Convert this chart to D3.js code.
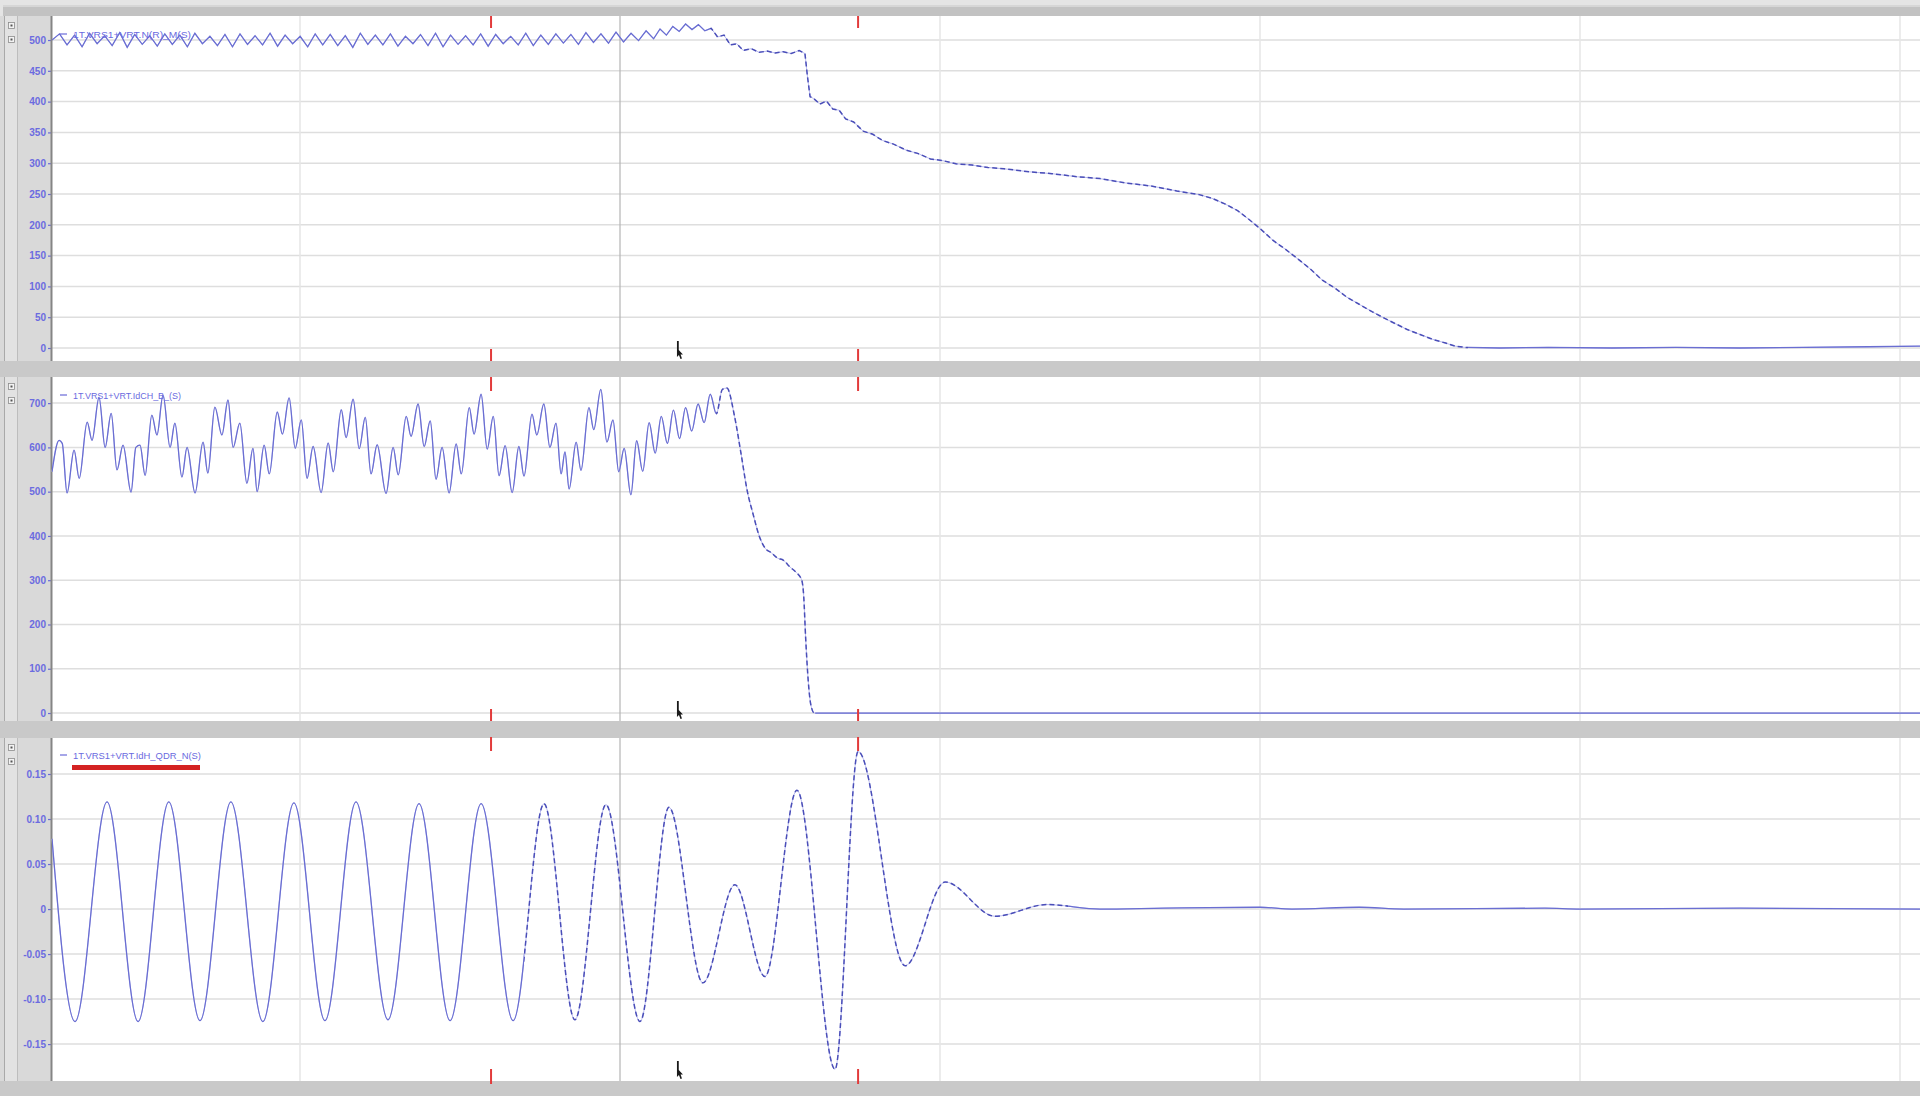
<!DOCTYPE html>
<html>
<head>
<meta charset="utf-8">
<script src="https://cdn.jsdelivr.net/npm/d3@7"></script>
<style>
  html, body { margin: 0; padding: 0; background: #ffffff; }
  svg { display: block; }
  text { font-family: "Liberation Sans", "DejaVu Sans", Arial, sans-serif; }
</style>
</head>
<body>
<svg id="chart" width="1920" height="1096"></svg>
<script>
// ---------------- recorded values ----------------
// time axis in ms
const timeDomain = [-77.5, 506.25];
const gridTimes = [0, 100, 200, 300, 400, 500];
const activeGridTime = 100;           // highlighted cursor line
const markerTimes = [59.7, 174.4];    // red event markers
const pointerTime = 117.8;            // mouse pointer position

const speedTicks = [0, 50, 100, 150, 200, 250, 300, 350, 400, 450, 500];
const powerTicks = [0, 100, 200, 300, 400, 500, 600, 700];
const currentTicks = [-0.15, -0.10, -0.05, 0, 0.05, 0.10, 0.15];
const currentTickLabels = ["-0.15", "-0.10", "-0.05", "0", "0.05", "0.10", "0.15"];

const seriesNames = [
  "1T.VRS1+VRT.N(R)_M(S)",
  "1T.VRS1+VRT.IdCH_B_(S)",
  "1T.VRS1+VRT.IdH_QDR_N(S)"
];

// channel 1: ripple before the event, one sample every 2.35 ms from -77.5 ms
const speedRippleStart = -77.5;
const speedRippleStep = 2.35;
const speedRipple = [
  500, 510, 492, 508, 489, 511, 494, 507, 491, 512, 488, 509, 493, 507, 490, 510,
  493, 508, 489, 511, 494, 506, 491, 509, 489, 510, 493, 507, 492, 511, 490, 508,
  494, 506, 489, 510, 492, 509, 491, 507, 488, 511, 493, 508, 492, 510, 490, 506,
  494, 509, 491, 511, 489, 508, 493, 507, 492, 510, 490, 509, 494, 506, 492, 511,
  491, 508, 493, 510, 495, 509, 493, 512, 496, 510, 495, 513, 497, 511, 499, 515, 502
];
// channel 1: run-down after the event [ms, value]
const speedRunDown = [
  [112.5, 518], [114.5, 508], [116.5, 522], [118.5, 514], [120.5, 526], [122.5, 517],
  [124.5, 525], [126.5, 515], [128.5, 519], [130.5, 505], [132.5, 508], [134.5, 492],
  [136.5, 494], [138.5, 483], [141, 486], [143.5, 480], [146, 482], [148.5, 479],
  [151, 481], [153.5, 478], [156, 483], [157.8, 478], [158.6, 440], [159.4, 408],
  [160.5, 405], [162.5, 396], [164.5, 401], [166.5, 388], [168.5, 386], [170.5, 372],
  [173, 367], [176, 352], [179, 347], [182, 337], [185.5, 331], [189.5, 321],
  [193, 316], [197, 307], [201, 304], [205, 299], [210, 297], [215, 293], [220, 291],
  [228, 286], [235, 283], [243, 278], [250, 275], [258, 268], [266, 263], [274, 255],
  [281, 249], [285, 243], [289, 234], [293, 223], [296.5, 209], [300, 194], [304, 175],
  [308, 160], [312, 144], [316, 127], [319.5, 110], [323.5, 97], [327, 83], [331, 71],
  [335, 59], [339, 48], [342.5, 39], [346, 30], [350, 22], [354, 14], [358, 8],
  [361, 3], [364, 1], [375, 0], [390, 1], [410, 0], [430, 1], [450, 0], [470, 1],
  [490, 2], [506.25, 3]
];

// channel 2 [ms, value]
const powerSeries = [
  [-77.5, 545], [-75.3, 616], [-74.3, 609], [-72.8, 497],
  [-70.6, 594], [-69.0, 530], [-66.5, 657], [-65.0, 616], [-62.8, 713], [-60.9, 600], [-59.0, 677], [-57.2, 549], [-55.3, 605], [-52.8, 499],
  [-51.3, 600], [-50.0, 605], [-48.4, 537], [-46.3, 673], [-44.7, 628], [-42.8, 718], [-40.6, 600], [-39.1, 655], [-36.9, 533], [-35.3, 600], [-32.8, 497],
  [-30.3, 612], [-28.8, 542], [-26.6, 691], [-24.4, 628], [-22.5, 707], [-20.9, 600], [-18.8, 655], [-16.6, 519], [-14.7, 598], [-13.4, 500],
  [-11.2, 605], [-9.6, 540], [-7.1, 680], [-5.5, 630], [-3.4, 712], [-1.5, 598], [0.4, 662], [2.2, 530], [4.1, 602], [6.6, 498],
  [8.8, 610], [10.4, 545], [12.9, 685], [14.4, 622], [16.6, 709], [18.5, 597], [20.4, 668], [22.2, 540], [24.1, 606], [26.9, 496],
  [29.1, 600], [30.7, 538], [33.2, 670], [34.7, 625], [36.9, 698], [38.8, 602], [40.7, 660], [42.5, 528], [44.4, 600], [46.6, 497],
  [48.8, 608], [50.4, 540], [52.9, 690], [54.4, 630], [56.6, 720], [58.5, 596], [60.4, 670], [62.2, 536], [64.1, 604], [66.3, 498],
  [68.4, 602], [70.0, 535], [72.5, 675], [74.0, 628], [76.2, 698], [78.1, 600], [80.0, 655], [81.6, 540], [82.8, 590], [84.1, 506],
  [86.3, 612], [87.8, 548], [90.3, 690], [91.8, 640], [94.0, 731], [95.9, 612], [97.8, 662], [99.6, 545], [101.3, 598], [103.4, 493],
  [105.2, 615], [107.1, 546], [109.1, 656], [111.0, 587], [112.9, 670], [114.8, 609], [116.7, 684], [118.6, 620],
  [120.5, 690], [122.4, 637], [124.4, 698], [126.3, 656], [128.2, 720], [130.1, 676], [132.0, 731], [133.4, 734],
  [135.8, 670], [137.8, 587], [139.7, 504], [141.6, 449], [143.5, 400], [145.4, 372], [147.3, 362], [149.2, 350],
  [151.1, 345], [153.1, 330], [155.0, 318], [156.8, 300], [157.4, 265], [158.0, 172], [158.8, 75], [159.6, 20],
  [160.7, 0], [200, 0], [300, 0], [400, 0], [506.25, 0]
];

// channel 3 [ms, value]: extremes of the oscillation and the settled tail
const currentSeries = [
  [-77.5, 0.078], [-70.3, -0.125], [-60.3, 0.119], [-50.6, -0.125], [-41.0, 0.119],
  [-31.25, -0.124], [-21.6, 0.119], [-11.6, -0.125], [-1.9, 0.118], [7.8, -0.124],
  [17.5, 0.119], [27.5, -0.123], [37.2, 0.117], [46.9, -0.124], [56.6, 0.117],
  [66.6, -0.124], [76.25, 0.117], [85.9, -0.123], [95.6, 0.116], [106.25, -0.125],
  [115.3, 0.113], [125.9, -0.082], [135.9, 0.027], [145.3, -0.075], [155.3, 0.132],
  [167.2, -0.178], [174.4, 0.175], [189.1, -0.063], [201.6, 0.030], [217.2, -0.008],
  [233.4, 0.005], [250, 0.0], [270, 0.001], [300, 0.002], [310, 0.0], [331, 0.002],
  [345, 0.0], [389, 0.001], [400, 0.0], [450, 0.001], [506.25, 0.0]
];

// ---------------- drawing ----------------
const W = 1920, H = 1096;
const plotLeft = 52, plotRight = 1920;
const svg = d3.select("#chart");

const x = d3.scaleLinear().domain(timeDomain).range([plotLeft, plotRight]);

const speedSeries = speedRipple
  .map((v, i) => [speedRippleStart + i * speedRippleStep, v])
  .concat(speedRunDown);

const panels = [
  { top: 16, bottom: 361, domain: [-21.1, 539], ticks: speedTicks, fmt: d => String(d),
    data: speedSeries, curve: d3.curveLinear, dash: [128, 365], name: seriesNames[0], legendY: 34, underline: false },
  { top: 377, bottom: 721, domain: [-18, 759], ticks: powerTicks, fmt: d => String(d),
    data: powerSeries, curve: d3.curveMonotoneX, dash: [130, 161], name: seriesNames[1], legendY: 395, underline: false },
  { top: 738, bottom: 1081, domain: [-0.191, 0.19], ticks: currentTicks,
    fmt: d => currentTickLabels[currentTicks.indexOf(d)],
    data: currentSeries, curve: d3.curveMonotoneX, dash: [70, 240], name: seriesNames[2], legendY: 755, underline: true }
];

// window background
svg.append("rect").attr("width", W).attr("height", H).attr("fill", "#e4e4e4");

// top title strip
svg.append("rect").attr("x", 3).attr("y", 5).attr("width", W - 3).attr("height", 11).attr("fill", "#c2c2c2");
svg.append("rect").attr("x", 3).attr("y", 5).attr("width", W - 3).attr("height", 2).attr("fill", "#d6d6d6");

const defs = svg.append("defs");

panels.forEach((p, k) => {
  const g = svg.append("g");
  const y = d3.scaleLinear().domain(p.domain).range([p.bottom, p.top]);

  // margin strip
  g.append("rect").attr("x", 0).attr("y", p.top).attr("width", plotLeft).attr("height", p.bottom - p.top).attr("fill", "#d9d9d9");
  g.append("rect").attr("x", 4).attr("y", p.top).attr("width", 13).attr("height", p.bottom - p.top).attr("fill", "#e2e2e2");
  g.append("line").attr("x1", 4.5).attr("x2", 4.5).attr("y1", p.top).attr("y2", p.bottom).attr("stroke", "#a9a9a9");
  g.append("line").attr("x1", 17.5).attr("x2", 17.5).attr("y1", p.top).attr("y2", p.bottom).attr("stroke", "#bdbdbd");
  [6, 20].forEach(dy => {
    g.append("rect").attr("x", 8.5).attr("y", p.top + dy + 0.5).attr("width", 6).attr("height", 6)
      .attr("fill", "#f3f3f3").attr("stroke", "#8c8c8c").attr("stroke-width", 0.8);
    g.append("rect").attr("x", 10.5).attr("y", p.top + dy + 2.5).attr("width", 2).attr("height", 2).attr("fill", "#555");
  });

  // plot area
  g.append("rect").attr("x", plotLeft).attr("y", p.top).attr("width", plotRight - plotLeft).attr("height", p.bottom - p.top).attr("fill", "#ffffff");

  // horizontal grid
  g.selectAll("line.hgrid").data(p.ticks).join("line")
    .attr("class", "hgrid")
    .attr("x1", plotLeft).attr("x2", plotRight)
    .attr("y1", d => y(d)).attr("y2", d => y(d))
    .attr("stroke", "#dedede").attr("stroke-width", 1.5);

  // vertical grid
  g.selectAll("line.vgrid").data(gridTimes).join("line")
    .attr("class", "vgrid")
    .attr("x1", d => x(d)).attr("x2", d => x(d))
    .attr("y1", p.top).attr("y2", p.bottom)
    .attr("stroke", d => d === activeGridTime ? "#b4b4b4" : "#e6e6e6")
    .attr("stroke-width", d => d === activeGridTime ? 1.2 : 1.5);

  // y axis
  const axis = d3.axisLeft(y).tickValues(p.ticks).tickFormat(p.fmt).tickSize(4).tickPadding(2);
  const ag = g.append("g").attr("transform", `translate(${plotLeft},0)`).call(axis);
  ag.select(".domain").remove();
  ag.selectAll(".tick line").attr("stroke", "#6a6ad8").attr("stroke-width", 1.2);
  ag.selectAll(".tick text").attr("fill", "#6b6be0").attr("font-size", 10).attr("font-weight", "bold");
  g.append("line").attr("x1", plotLeft - 0.5).attr("x2", plotLeft - 0.5).attr("y1", p.top).attr("y2", p.bottom)
    .attr("stroke", "#858585").attr("stroke-width", 2);

  // clip regions for solid / dashed parts of the trace
  const solidId = "solid" + k, dashId = "dash" + k;
  const sc = defs.append("clipPath").attr("id", solidId);
  sc.append("rect").attr("x", plotLeft).attr("y", p.top).attr("width", x(p.dash[0]) - plotLeft).attr("height", p.bottom - p.top);
  sc.append("rect").attr("x", x(p.dash[1])).attr("y", p.top).attr("width", plotRight - x(p.dash[1])).attr("height", p.bottom - p.top);
  defs.append("clipPath").attr("id", dashId).append("rect")
    .attr("x", x(p.dash[0])).attr("y", p.top).attr("width", x(p.dash[1]) - x(p.dash[0])).attr("height", p.bottom - p.top);

  const line = d3.line().x(d => x(d[0])).y(d => y(d[1])).curve(p.curve);
  const dStr = line(p.data);

  g.append("path").attr("d", dStr).attr("fill", "none").attr("stroke", "#b9bbf0").attr("stroke-width", 1);
  g.append("path").attr("d", dStr).attr("fill", "none").attr("stroke", "#6a6ed2").attr("stroke-width", 1.3)
    .attr("clip-path", `url(#${solidId})`);
  g.append("path").attr("d", dStr).attr("fill", "none").attr("stroke", "#4a4eb8").attr("stroke-width", 1.5)
    .attr("stroke-dasharray", "5 3").attr("clip-path", `url(#${dashId})`);

  // legend
  g.append("line").attr("x1", 60).attr("x2", 67).attr("y1", p.legendY).attr("y2", p.legendY)
    .attr("stroke", "#6a6ad8").attr("stroke-width", 1.2);
  g.append("text").attr("x", 73).attr("y", p.legendY + 3.5).attr("font-size", 9.5)
    .attr("fill", "#6a6ae0").attr("textLength", k === 2 ? 128 : (k === 1 ? 108 : 118))
    .attr("lengthAdjust", "spacingAndGlyphs").text(p.name);
  if (p.underline) {
    g.append("rect").attr("x", 72).attr("y", p.legendY + 10).attr("width", 128).attr("height", 5).attr("fill", "#d42222");
  }

  // mouse pointer
  const px = x(pointerTime), py = p.bottom - 4;
  g.append("path")
    .attr("d", `M${px},${py - 16} L${px},${py} L${px + 2},${py - 2} L${px + 3.5},${py + 2} L${px + 5},${py + 1.4} L${px + 3.6},${py - 2.4} L${px + 6},${py - 2.6} L${px + 1.8},${py - 7} L${px + 1.8},${py - 16} Z`)
    .attr("fill", "#1a1a1a");
});

// separators between panels
const separators = [[361, 377], [721, 738], [1081, 1096]];
separators.forEach(([a, b]) => {
  svg.append("rect").attr("x", 0).attr("y", a).attr("width", W).attr("height", b - a).attr("fill", "#c9c9c9");
});

// red event markers at panel edges
markerTimes.forEach(t => {
  const mx = x(t);
  const spans = [[16, 28], [349, 391], [709, 751], [1069, 1084]];
  spans.forEach(([a, b]) => {
    svg.append("line").attr("x1", mx).attr("x2", mx).attr("y1", a).attr("y2", b)
      .attr("stroke", "#e23b3b").attr("stroke-width", 2).attr("stroke-dasharray", b - a > 20 ? "12 16 14" : null);
  });
});
</script>
</body>
</html>
